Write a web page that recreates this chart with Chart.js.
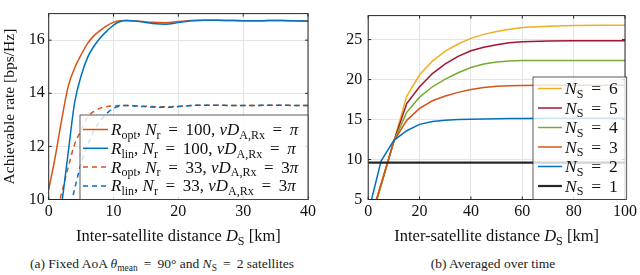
<!DOCTYPE html>
<html>
<head>
<meta charset="utf-8">
<script src="https://cdn.jsdelivr.net/npm/chart.js@4/dist/chart.umd.min.js"></script>
<style>
  body { margin: 0; background: #fff; }
  #wrap { position: relative; width: 640px; height: 275px; overflow: hidden; }
  .box { position: absolute; top: 0; width: 320px; height: 250px; }
  .cap { position: absolute; top: 256px; font-family: "Liberation Serif", serif; font-size: 13.5px; color: #222; white-space: nowrap; transform: translateX(-50%); }
  .cap sub { font-size: 0.7em; vertical-align: -0.3em; line-height: 0; }
</style>
</head>
<body>
<div id="wrap">
  <div class="box" style="left:0"><canvas id="ctxA" width="320" height="250"></canvas></div>
  <div class="box" style="left:320px"><canvas id="ctxB" width="320" height="250"></canvas></div>
  <div class="cap" style="left:162px">(a) Fixed AoA <i>θ</i><sub>mean</sub>&thinsp; = &thinsp;90° and <i>N</i><sub>S</sub>&thinsp; = &thinsp;2 satellites</div>
  <div class="cap" style="left:493px">(b) Averaged over time</div>
</div>
<script>
// (a) fixed AoA
const distA = [0,1,2,3,4,5,6,7,8,9,10,11,12,14,16,18,20,22,24,26,28,30,32,34,36,38,40];
const optN100 = [10.37,11.6,13.0,14.25,14.95,15.45,15.88,16.17,16.38,16.55,16.67,16.73,16.74,16.71,16.67,16.66,16.7,16.74,16.75,16.75,16.74,16.73,16.73,16.74,16.74,16.73,16.72];
const linN100 = [6.0,8.0,9.8,11.75,13.65,14.65,15.35,15.78,16.1,16.35,16.57,16.7,16.74,16.7,16.63,16.6,16.66,16.73,16.75,16.75,16.74,16.73,16.73,16.74,16.74,16.73,16.72];
const optN33 = [8.4,9.3,10.25,11.2,12.08,12.6,13.1,13.32,13.44,13.5,13.53,13.54,13.54,13.52,13.5,13.49,13.51,13.54,13.55,13.55,13.54,13.54,13.54,13.55,13.55,13.54,13.54];
const linN33 = [6.2,7.3,8.3,9.35,10.4,11.35,12.05,12.6,12.98,13.25,13.44,13.52,13.54,13.51,13.48,13.47,13.5,13.54,13.55,13.55,13.54,13.54,13.54,13.55,13.55,13.54,13.54];
const ticksAx = [0,10,20,30,40];
const ticksAy = [10,12,14,16];

// (b) averaged over time
const distB = [0,5,10,15,20,25,30,35,40,45,50,55,60,70,80,90,100];
const ns6 = [1.6,6.9,12.3,17.9,20.6,22.3,23.55,24.45,25.15,25.65,26.0,26.3,26.5,26.68,26.75,26.78,26.8];
const ns5 = [1.5,6.8,12.3,17.0,19.1,20.75,21.95,22.9,23.6,24.05,24.35,24.6,24.72,24.82,24.85,24.85,24.85];
const ns4 = [1.2,6.7,12.3,15.9,17.8,19.1,20.05,20.85,21.5,21.95,22.2,22.32,22.38,22.4,22.4,22.4,22.4];
const ns3 = [1.6,6.9,12.3,14.9,16.4,17.35,17.95,18.4,18.75,19.0,19.15,19.22,19.27,19.3,19.3,19.3,19.3];
const ns2 = [3.3,9.8,12.4,13.6,14.4,14.75,14.92,15.0,15.05,15.08,15.1,15.12,15.13,15.15,15.15,15.16,15.15];
const ns1 = [9.6,9.6,9.6,9.6,9.6,9.6,9.6,9.6,9.6,9.6,9.6,9.6,9.6,9.6,9.6,9.6,9.6];
const ticksBx = [0,20,40,60,80,100];
const ticksBy = [5,10,15,20,25];

const FONT = 'Liberation Serif';
const AX = '#262626';
const EQ = ' \u2009=\u2009 ';

// text with italic / subscript pieces, y is the baseline
function drawRich(ctx, parts, x, y, size, align) {
    const sub = Math.round(size * 0.7);
    const fonts = {
        n: size + 'px "' + FONT + '"',
        i: 'italic ' + size + 'px "' + FONT + '"',
        s: sub + 'px "' + FONT + '"'
    };
    let w = 0;
    parts.forEach(p => { ctx.font = fonts[p[1]]; w += ctx.measureText(p[0]).width; });
    let cx = align === 'center' ? x - w / 2 : x;
    ctx.textBaseline = 'alphabetic';
    ctx.textAlign = 'left';
    parts.forEach(p => {
        ctx.font = fonts[p[1]];
        ctx.fillText(p[0], cx, y + (p[1] === 's' ? size * 0.22 : 0));
        cx += ctx.measureText(p[0]).width;
    });
}

const pts = (xs, ys) => xs.map((x, i) => ({x: x, y: ys[i]}));

const matlabLook = {
    id: 'matlabLook',
    afterDatasetsDraw(chart, args, opts) {
        const {ctx, chartArea: a} = chart;
        ctx.save();
        // inner ticks + box
        ctx.strokeStyle = AX;
        ctx.lineWidth = 1;
        const xs = chart.scales.x, ys = chart.scales.y;
        ctx.beginPath();
        xs.ticks.forEach(t => {
            const px = xs.getPixelForValue(t.value);
            ctx.moveTo(px, a.bottom); ctx.lineTo(px, a.bottom - 3);
            ctx.moveTo(px, a.top); ctx.lineTo(px, a.top + 3);
        });
        ys.ticks.forEach(t => {
            const py = ys.getPixelForValue(t.value);
            ctx.moveTo(a.left, py); ctx.lineTo(a.left + 3, py);
            ctx.moveTo(a.right, py); ctx.lineTo(a.right - 3, py);
        });
        ctx.stroke();
        ctx.strokeRect(a.left, a.top, a.right - a.left, a.bottom - a.top);

        // legend
        const L = opts.legend;
        ctx.fillStyle = 'rgba(255,255,255,0.8)';
        ctx.fillRect(L.x0, L.y0, L.x1 - L.x0, L.y1 - L.y0);
        ctx.strokeStyle = '#333';
        ctx.lineWidth = 0.8;
        ctx.strokeRect(L.x0, L.y0, L.x1 - L.x0, L.y1 - L.y0);
        L.items.forEach((it, i) => {
            const cy = L.row0 + i * L.step;
            ctx.strokeStyle = it.color;
            ctx.lineWidth = it.width || 1.5;
            ctx.setLineDash(it.dash || []);
            ctx.beginPath();
            ctx.moveTo(L.s0, cy); ctx.lineTo(L.s1, cy);
            ctx.stroke();
            ctx.setLineDash([]);
            ctx.fillStyle = '#111';
            drawRich(ctx, it.parts, L.tx, cy + 5.5, L.size, 'left');
        });

        // x title
        ctx.fillStyle = '#111';
        drawRich(ctx, opts.xtitle, (a.left + a.right) / 2, 241, 16.5, 'center');
        ctx.restore();
    }
};

function axes(xmin, xmax, xt, ymin, ymax, yt, ypad, ytitle) {
    const grid = {color: '#e4e4e4', lineWidth: 1, drawTicks: false};
    const tickFont = {family: FONT, size: 16};
    return {
        x: {
            type: 'linear', min: xmin, max: xmax,
            grid: grid, border: {display: false},
            afterBuildTicks: s => { s.ticks = xt.map(v => ({value: v})); },
            afterFit: s => { s.height = 50.5; },
            ticks: {font: tickFont, color: '#111', padding: 3, maxRotation: 0}
        },
        y: {
            type: 'linear', min: ymin, max: ymax,
            grid: grid, border: {display: false},
            afterBuildTicks: s => { s.ticks = yt.map(v => ({value: v})); },
            afterFit: s => { s.width = 48.2; },
            ticks: {font: tickFont, color: '#111', padding: ypad},
            title: {display: !!ytitle, text: ytitle || '', color: '#111',
                    font: {family: FONT, size: 15.5}, padding: {top: 0, bottom: 0}}
        }
    };
}

const blue = '#0072BD', orange = '#D95319', yellow = '#EDB120', red = '#A2142F', green = '#77AC30', black = '#262626';

new Chart(document.getElementById('ctxA'), {
    type: 'line',
    data: {
        datasets: [
            {data: pts(distA, linN100), borderColor: blue, order: 1},
            {data: pts(distA, optN100), borderColor: orange, order: 2},
            {data: pts(distA, linN33), borderColor: blue, borderDash: [5, 4], order: 3},
            {data: pts(distA, optN33), borderColor: orange, borderDash: [5, 4], order: 4}
        ]
    },
    options: {
        responsive: false, animation: false, devicePixelRatio: 1,
        layout: {padding: {top: 0.5, right: 12, left: 0.5, bottom: 0}},
        elements: {point: {radius: 0}, line: {borderWidth: 1.5, cubicInterpolationMode: 'monotone'}},
        scales: axes(0, 40, ticksAx, 10, 17, ticksAy, 4, 'Achievable rate [bps/Hz]'),
        plugins: {
            legend: {display: false}, tooltip: {enabled: false},
            matlabLook: {
                xtitle: [['Inter-satellite distance ', 'n'], ['D', 'i'], ['S', 's'], [' [km]', 'n']],
                legend: {
                    x0: 80, y0: 115, x1: 308, y1: 199.5, row0: 129.5, step: 18.8, s0: 83, s1: 108, tx: 111, size: 17,
                    items: [
                        {color: orange, parts: [['R', 'i'], ['opt', 's'], [', ', 'n'], ['N', 'i'], ['r', 's'], [EQ + '100, ', 'n'], ['νD', 'i'], ['A,Rx', 's'], [EQ, 'n'], ['π', 'i']]},
                        {color: blue, parts: [['R', 'i'], ['lin', 's'], [', ', 'n'], ['N', 'i'], ['r', 's'], [EQ + '100, ', 'n'], ['νD', 'i'], ['A,Rx', 's'], [EQ, 'n'], ['π', 'i']]},
                        {color: orange, dash: [5, 4], parts: [['R', 'i'], ['opt', 's'], [', ', 'n'], ['N', 'i'], ['r', 's'], [EQ + '33, ', 'n'], ['νD', 'i'], ['A,Rx', 's'], [EQ + '3', 'n'], ['π', 'i']]},
                        {color: blue, dash: [5, 4], parts: [['R', 'i'], ['lin', 's'], [', ', 'n'], ['N', 'i'], ['r', 's'], [EQ + '33, ', 'n'], ['νD', 'i'], ['A,Rx', 's'], [EQ + '3', 'n'], ['π', 'i']]}
                    ]
                }
            }
        }
    },
    plugins: [matlabLook]
});

new Chart(document.getElementById('ctxB'), {
    type: 'line',
    data: {
        datasets: [
            {data: pts(distB, ns1), borderColor: black, borderWidth: 2.2, order: 1},
            {data: pts(distB, ns2), borderColor: blue, order: 2},
            {data: pts(distB, ns3), borderColor: orange, order: 3},
            {data: pts(distB, ns4), borderColor: green, order: 4},
            {data: pts(distB, ns5), borderColor: red, order: 5},
            {data: pts(distB, ns6), borderColor: yellow, order: 6}
        ]
    },
    options: {
        responsive: false, animation: false, devicePixelRatio: 1,
        layout: {padding: {top: 0.5, right: 13.3, left: 0, bottom: 0}},
        elements: {point: {radius: 0}, line: {borderWidth: 1.5, tension: 0}},
        scales: axes(0, 100, ticksBx, 5, 28, ticksBy, 6, null),
        plugins: {
            legend: {display: false}, tooltip: {enabled: false},
            matlabLook: {
                xtitle: [['Inter-satellite distance ', 'n'], ['D', 'i'], ['S', 's'], [' [km]', 'n']],
                legend: {
                    x0: 213, y0: 77, x1: 306.7, y1: 199.5, row0: 88.5, step: 19.5, s0: 218, s1: 242, tx: 245, size: 17.5,
                    items: [
                        {color: yellow, parts: [['N', 'i'], ['S', 's'], [EQ + '6', 'n']]},
                        {color: red, parts: [['N', 'i'], ['S', 's'], [EQ + '5', 'n']]},
                        {color: green, parts: [['N', 'i'], ['S', 's'], [EQ + '4', 'n']]},
                        {color: orange, parts: [['N', 'i'], ['S', 's'], [EQ + '3', 'n']]},
                        {color: blue, parts: [['N', 'i'], ['S', 's'], [EQ + '2', 'n']]},
                        {color: black, width: 2.2, parts: [['N', 'i'], ['S', 's'], [EQ + '1', 'n']]}
                    ]
                }
            }
        }
    },
    plugins: [matlabLook]
});
</script>
</body>
</html>
